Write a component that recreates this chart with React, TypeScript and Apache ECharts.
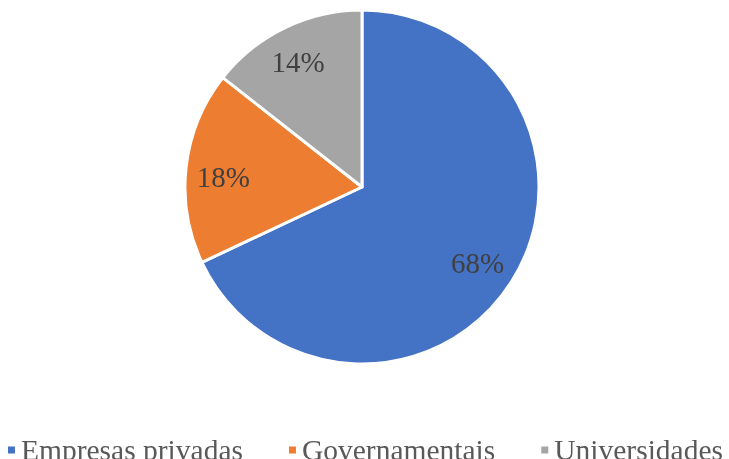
import React, { useEffect, useRef } from "react";
import * as echarts from "echarts";

const categories = ["Empresas privadas", "Governamentais", "Universidades"];
const values = [68.0, 17.6, 14.4];
const colors = ["#4472C4", "#ED7D31", "#A5A5A5"];
const labelOffsets = [[-4, 0], [2, 6], [-2, 2]];

export default function App() {
  const ref = useRef<HTMLDivElement>(null);
  useEffect(() => {
    const chart = echarts.init(ref.current!, null, { renderer: "svg" });
    const data = categories.map((name, i) => ({ name, value: values[i], itemStyle: { color: colors[i] } }));
    const serif = "'Liberation Serif', 'Times New Roman', serif";
    chart.setOption({
      animation: false,
      textStyle: { fontFamily: serif },
      legend: {
        data: categories,
        left: "center",
        top: 430,
        itemWidth: 9,
        itemHeight: 9,
        itemGap: 44,
        icon: "rect",
        textStyle: { fontSize: 29.5, color: "#595959", fontFamily: serif },
      },
      series: [
        {
          type: "pie",
          center: [362, 187],
          radius: [0, 177],
          startAngle: 90,
          clockwise: true,
          data,
          label: { show: false },
          labelLine: { show: false },
          itemStyle: { borderColor: "#ffffff", borderWidth: 3 },
          emphasis: { disabled: true },
        },
        {
          type: "pie",
          center: [362, 187],
          radius: [100, 177],
          startAngle: 90,
          clockwise: true,
          silent: true,
          data: categories.map((name, i) => ({
            name,
            value: values[i],
            label: { offset: labelOffsets[i] },
          })),
          itemStyle: { color: "rgba(0,0,0,0)" },
          label: {
            show: true,
            position: "inside",
            formatter: (p: any) => Math.round(p.value) + "%",
            fontSize: 29,
            color: "#404040",
            fontFamily: serif,
          },
          labelLine: { show: false },
          emphasis: { disabled: true },
        },
      ],
    });
    return () => chart.dispose();
  }, []);
  return <div ref={ref} style={{ position: "fixed", left: 0, top: 0, width: 729, height: 459 }} />;
}
